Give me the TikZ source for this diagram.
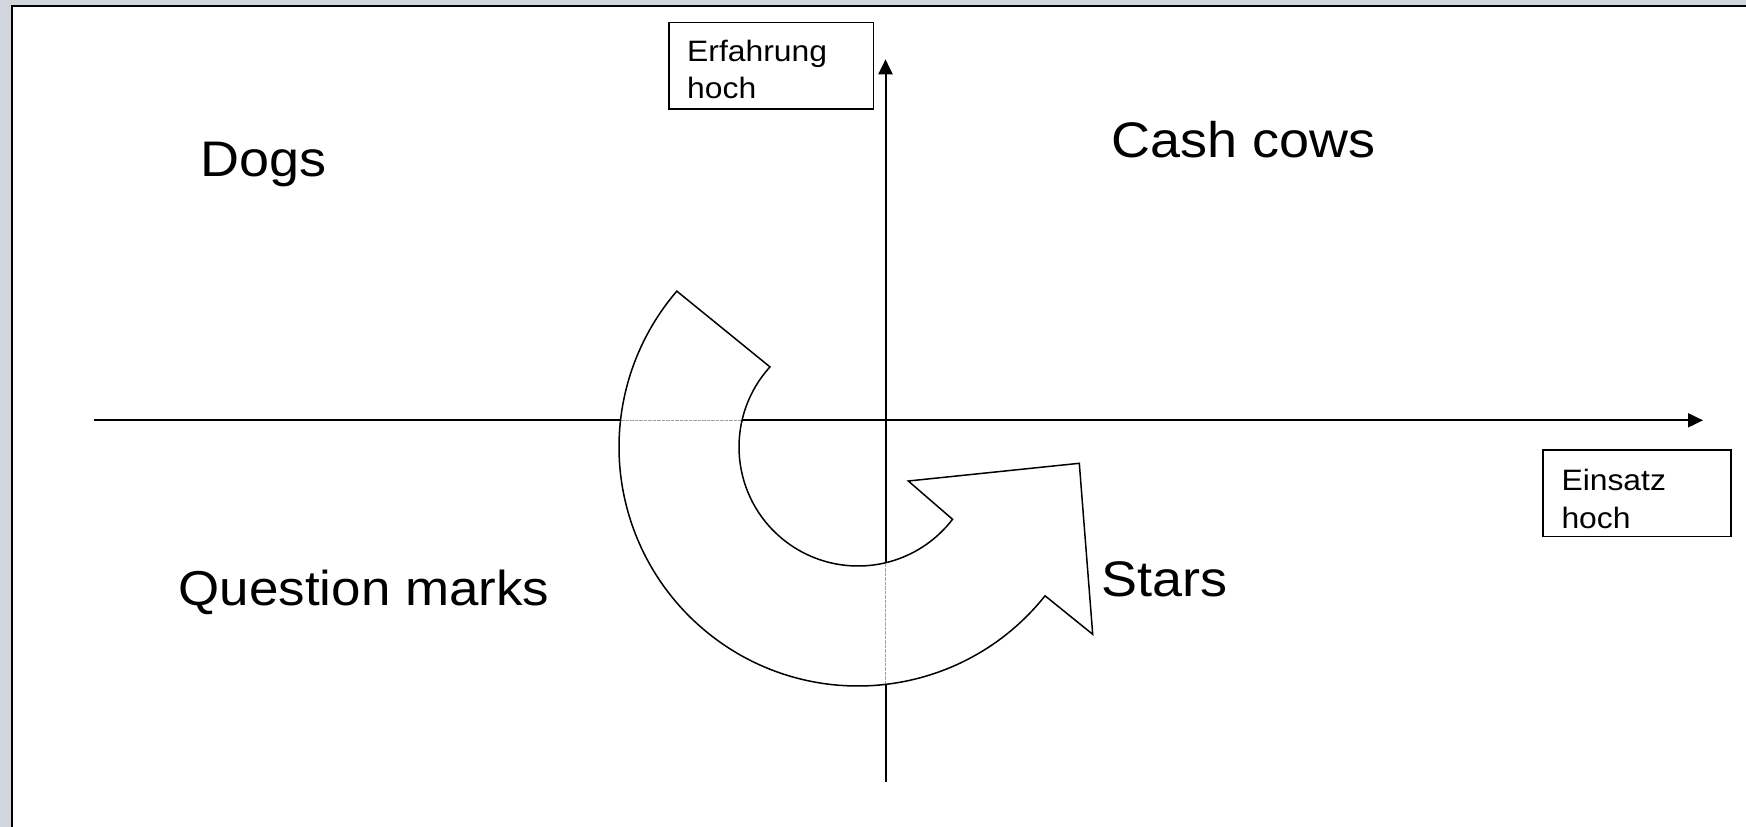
\documentclass[tikz,border=0pt]{standalone}
\usepackage{fontspec}
\setmainfont{Liberation Sans}[FakeStretch=1.08]
\usetikzlibrary{arrows.meta,calc}
\definecolor{bggray}{RGB}{209,213,222}
\definecolor{ghost}{RGB}{160,160,160}
\begin{document}
\begin{tikzpicture}[x=1pt,y=-1pt,
  axis/.style={line width=2pt,-{Triangle[length=15pt,width=14pt]}},
  turn/.style={line width=1.5pt,line join=miter},
  ghostline/.style={ghost,line width=1.5pt,dash pattern=on 3.5pt off 1pt},
  lbox/.style={draw,line width=1.5pt,anchor=north west,inner sep=0pt},
  big/.style={font=\fontsize{50}{60}\selectfont,inner sep=0pt,anchor=base west},
  small/.style={font=\fontsize{29.5}{37}\selectfont,inner sep=0pt,anchor=base west}]
\useasboundingbox (0,0) rectangle (1746,827);
% background frame
\fill[bggray] (0,0) rectangle (1746,827);
\fill[white] (12,6) rectangle (1746,827);
\draw[line width=1.5pt] (12,827) -- (12,6) -- (1746,6);

% axes
\coordinate (hstart) at (94,420.3);
\coordinate (hend) at (1703,420.3);
\coordinate (vstart) at (885.5,781.7);
\coordinate (vend) at (885.5,59.3);
\draw[axis] (hstart) -- (hend);
\draw[axis] (vstart) -- (vend);

% curved arrow
\coordinate (C) at (858,447);
\fill[white] ($(C)+(220.7:239)$) -- ($(C)+(222.3:119)$)
  arc[start angle=222.3,end angle=37.4,radius=119]
  -- (908.3,481) -- (1079.3,463.3) -- (1092.7,634.3)
  -- ($(C)+(38.5:239)$) arc[start angle=38.5,end angle=220.7,radius=239] -- cycle;
\coordinate (gh1) at (621,420.3);
\coordinate (gh2) at (741.5,420.3);
\coordinate (gv1) at (885.5,563.5);
\coordinate (gv2) at (885.5,684);
\draw[ghostline] (gh1) -- (gh2);
\draw[ghostline] (gv1) -- (gv2);
\draw[turn] ($(C)+(220.7:239)$) -- ($(C)+(222.3:119)$)
  arc[start angle=222.3,end angle=37.4,radius=119]
  -- (908.3,481) -- (1079.3,463.3) -- (1092.7,634.3)
  -- ($(C)+(38.5:239)$) arc[start angle=38.5,end angle=220.7,radius=239] -- cycle;

% quadrant labels
\node[big] (dogs) at (200,176.7) {Dogs};
\node[big] (cash) at (1111.5,157.3) {Cash cows};
\node[big,font=\fontsize{49}{59}\selectfont] (quest) at (178.5,605) {Question marks};
\node[big] (stars) at (1101,596) {Stars};

% axis label boxes
\node[lbox,minimum width=204.4pt,minimum height=86.6pt] (erfbox) at (668.3,21.7) {};
\node[small] (erf1) at (687,61.7) {Erfahrung};
\node[small] (erf2) at (687,98.3) {hoch};
\node[lbox,minimum width=187.7pt,minimum height=86.4pt] (einbox) at (1542.3,449.3) {};
\node[small] (ein1) at (1561.3,490.7) {Einsatz};
\node[small] (ein2) at (1561.3,528.3) {hoch};
\end{tikzpicture}
\end{document}
